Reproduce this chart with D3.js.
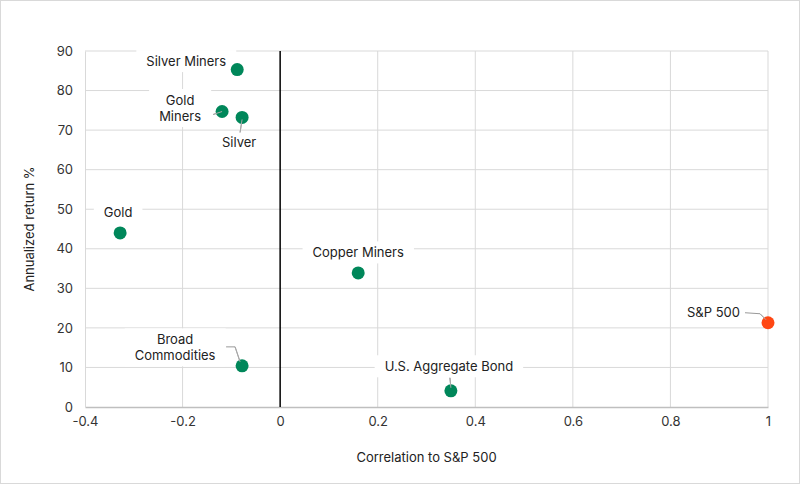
<!DOCTYPE html>
<html>
<head>
<meta charset="utf-8">
<script src="https://cdn.jsdelivr.net/npm/d3@7"></script>
<style>
body{margin:0;background:#fff;}
text{font-family:Inter,"Noto Sans",sans-serif;}
</style>
</head>
<body>
<script>
// data
var names=["Silver Miners","Gold Miners","Silver","Gold","Broad Commodities","Copper Miners","U.S. Aggregate Bond","S&P 500"];
var correlation=[-0.088,-0.119,-0.078,-0.328,-0.078,0.16,0.35,1.0];
var annReturn=[85.3,74.7,73.2,44.0,10.4,33.9,4.1,21.3];
var xTicks=[-0.4,-0.2,0,0.2,0.4,0.6,0.8,1];
var yTicks=[0,10,20,30,40,50,60,70,80,90];

// label placement (pixel offsets from the point), leader lines
var labels={
 "Silver Miners":{lines:["Silver Miners"],dx:-51,dy:-8,lead:null},
 "Gold Miners":{lines:["Gold","Miners"],dx:-42,dy:-3,lead:[[-9,3],[0,0]]},
 "Silver":{lines:["Silver"],dx:-3,dy:25,lead:[[-2,15],[0,2]]},
 "Gold":{lines:["Gold"],dx:-2,dy:-20,lead:null},
 "Broad Commodities":{lines:["Broad","Commodities"],dx:-67,dy:-18,lead:[[-16,-19],[-7,-19],[-2,-4]]},
 "Copper Miners":{lines:["Copper Miners"],dx:0,dy:-20,lead:null},
 "U.S. Aggregate Bond":{lines:["U.S. Aggregate Bond"],dx:-2,dy:-24,lead:[[-1,-13],[0,-3]]},
 "S&P 500":{lines:["S&P 500"],dx:-28,dy:-10,lead:[[-23,-10],[-8,-9],[-2,-3]],anchor:"end"}
};

var W=800,H=484;
var margin={top:51,right:32,bottom:77,left:85};
var width=W-margin.left-margin.right,
    height=H-margin.top-margin.bottom;

var svg=d3.select("body").append("svg")
  .attr("width",W).attr("height",H);

svg.append("rect")
  .attr("x",0.5).attr("y",0.5).attr("width",W-1).attr("height",H-1)
  .attr("fill","#fff").attr("stroke","#d9d9d9");

var g=svg.append("g")
  .attr("transform","translate("+margin.left+","+margin.top+")");

var x=d3.scaleLinear().domain([-0.4,1]).range([0,width]);
var y=d3.scaleLinear().domain([0,90]).range([height,0]);

// gridlines
g.append("g").selectAll("line.gy")
  .data(yTicks.slice(1)).enter().append("line")
  .attr("x1",0).attr("x2",width)
  .attr("y1",function(d){return y(d);}).attr("y2",function(d){return y(d);})
  .attr("stroke","#d9d9d9").attr("stroke-width",1);
g.append("g").selectAll("line.gx")
  .data(xTicks.filter(function(d){return d!==-0.4 && d!==0;})).enter().append("line")
  .attr("x1",function(d){return x(d);}).attr("x2",function(d){return x(d);})
  .attr("y1",0).attr("y2",height)
  .attr("stroke","#d9d9d9").attr("stroke-width",1);

// axes
var xAxis=g.append("g")
  .attr("transform","translate(0,"+height+")")
  .call(d3.axisBottom(x).tickValues(xTicks).tickSize(0).tickPadding(10)
    .tickFormat(function(d){return d===0?"0":String(d).replace("-","\u2212").replace("\u22120.","\u22120.");}));
xAxis.select(".domain").attr("stroke","#bfbfbf").attr("stroke-width",1.5);
var yAxis=g.append("g")
  .call(d3.axisLeft(y).tickValues(yTicks).tickSize(0).tickPadding(12));
yAxis.select(".domain").attr("stroke","#d9d9d9");
g.selectAll(".tick text").attr("font-size",13).attr("fill","#333")
  .style("font-family","Inter,'Noto Sans',sans-serif");
xAxis.selectAll(".tick text").text(function(d){return d<0?"-"+String(-d):String(d);});

// zero line
g.append("line")
  .attr("x1",x(0)).attr("x2",x(0)).attr("y1",0).attr("y2",height)
  .attr("stroke","#000").attr("stroke-width",1.5);

// axis titles
svg.append("text")
  .attr("x",margin.left+width/2).attr("y",462)
  .attr("text-anchor","middle").attr("font-size",13).attr("fill","#222")
  .text("Correlation to S&P 500");
svg.append("text")
  .attr("transform","translate(34,"+(margin.top+height/2)+") rotate(-90)")
  .attr("text-anchor","middle").attr("font-size",13).attr("fill","#222")
  .text("Annualized return %");

// labels with white backing
var data=names.map(function(n,i){return {name:n,cx:correlation[i],ret:annReturn[i]};});
var lab=g.append("g");
data.forEach(function(d){
  var L=labels[d.name];
  var px=x(d.cx),py=y(d.ret);
  var anchor=L.anchor||"middle";
  var t=lab.append("text")
    .attr("text-anchor",anchor).attr("font-size",13).attr("fill","#222");
  var n=L.lines.length;
  L.lines.forEach(function(s,k){
    t.append("tspan").attr("x",px+L.dx)
      .attr("y",py+L.dy+(k-(n-1)/2)*16+4.5).text(s);
  });
  var bb=t.node().getBBox();
  lab.insert("rect","text")
    .attr("x",bb.x-10).attr("y",bb.y-3).attr("width",bb.width+20).attr("height",bb.height+6)
    .attr("fill","#fff");
  if(L.lead){
    lab.append("path")
      .attr("d",d3.line()(L.lead.map(function(p){return [px+p[0],py+p[1]];})))
      .attr("fill","none").attr("stroke","#999").attr("stroke-width",1);
  }
});

// points
g.selectAll("circle.pt")
  .data(data).enter().append("circle")
  .attr("class","pt")
  .attr("cx",function(d){return x(d.cx);})
  .attr("cy",function(d){return y(d.ret);})
  .attr("r",6.5)
  .attr("fill",function(d){return d.name==="S&P 500"?"#ff4713":"#00875a";});
// leader tails drawn over the dots
data.forEach(function(d){
  var L=labels[d.name];
  if(L.lead){
    var last=L.lead.slice(-2);
    g.append("path")
      .attr("d",d3.line()(last.map(function(p){return [x(d.cx)+p[0],y(d.ret)+p[1]];})))
      .attr("fill","none").attr("stroke","#aaa").attr("stroke-width",1);
  }
});
</script>
</body>
</html>
